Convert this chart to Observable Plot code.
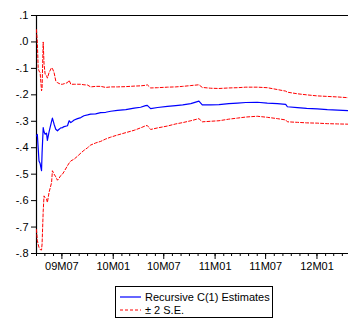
<!DOCTYPE html>
<html>
<head>
<meta charset="utf-8">
<script src="https://cdn.jsdelivr.net/npm/d3@7"></script>
<script src="https://cdn.jsdelivr.net/npm/@observablehq/plot@0.6"></script>
<style>
  body { margin: 0; background: #fff; }
  #chart { position: relative; width: 348px; height: 326px; overflow: hidden; background: #fff;
           font-family: "Liberation Sans", Arial, sans-serif; }
  #chart > svg { display: block; }
  .legend { position: absolute; left: 115px; top: 286px; width: 156px; height: 30px;
            border: 1px solid #000; font-size: 11px; color: #000; box-sizing: content-box; }
  .legend .row { position: absolute; left: 4px; height: 13px; display: flex; align-items: center; white-space: nowrap; }
  .legend .row svg { display: block; flex: none; margin-right: 4px; }
</style>
</head>
<body>
<div id="chart"></div>
<script>
// Observation dates
const dates = [
  "2009-04-01","2009-04-04","2009-04-07","2009-04-10","2009-04-14","2009-04-19","2009-04-21",
  "2009-04-25","2009-04-28","2009-05-02","2009-05-07","2009-05-10","2009-05-16","2009-05-25",
  "2009-05-28","2009-06-03","2009-06-09","2009-06-15","2009-06-21","2009-06-27","2009-07-03",
  "2009-07-09","2009-07-21","2009-07-27","2009-08-02","2009-08-14","2009-08-26","2009-09-07",
  "2009-09-18","2009-10-01","2009-10-12","2009-10-30","2009-11-17","2009-12-05","2009-12-23",
  "2010-01-16","2010-02-15","2010-03-17","2010-04-09","2010-04-27","2010-05-03","2010-05-15",
  "2010-06-09","2010-07-14","2010-08-13","2010-09-07","2010-10-06","2010-11-04","2010-11-16",
  "2010-12-16","2011-01-15","2011-02-19","2011-03-22","2011-04-21","2011-06-01","2011-07-07",
  "2011-08-12","2011-09-11","2011-09-17","2011-10-23","2011-11-25","2012-01-02","2012-02-07",
  "2012-03-15","2012-04-23"
];

// Recursive C(1) estimates
const estimate = [
  -0.355,-0.350,-0.400,-0.450,-0.460,-0.487,-0.420,
  -0.324,-0.340,-0.349,-0.345,-0.372,-0.340,-0.300,
  -0.288,-0.311,-0.330,-0.336,-0.330,-0.325,-0.324,
  -0.320,-0.317,-0.298,-0.305,-0.295,-0.290,-0.286,
  -0.279,-0.276,-0.273,-0.272,-0.267,-0.266,-0.262,
  -0.259,-0.256,-0.250,-0.247,-0.241,-0.240,-0.252,
  -0.248,-0.244,-0.241,-0.238,-0.233,-0.224,-0.238,
  -0.238,-0.237,-0.233,-0.231,-0.229,-0.228,-0.231,
  -0.233,-0.236,-0.245,-0.248,-0.251,-0.253,-0.256,
  -0.258,-0.260
];

// Upper band: estimate + 2 S.E.
const upper = [
   0.046, 0.000,-0.097,-0.110,-0.116,-0.185,-0.175,
   0.000,-0.084,-0.122,-0.128,-0.137,-0.116,-0.097,
  -0.100,-0.116,-0.147,-0.154,-0.157,-0.160,-0.160,
  -0.158,-0.154,-0.145,-0.160,-0.160,-0.160,-0.160,
  -0.162,-0.163,-0.170,-0.168,-0.168,-0.172,-0.170,
  -0.170,-0.169,-0.167,-0.166,-0.164,-0.162,-0.174,
  -0.173,-0.171,-0.170,-0.168,-0.165,-0.162,-0.172,
  -0.175,-0.176,-0.174,-0.173,-0.171,-0.171,-0.173,
  -0.180,-0.186,-0.190,-0.196,-0.200,-0.204,-0.206,
  -0.208,-0.211
];

// Lower band: estimate - 2 S.E.
const lower = [
  -0.710,-0.750,-0.765,-0.777,-0.785,-0.787,-0.764,
  -0.640,-0.582,-0.590,-0.594,-0.607,-0.569,-0.532,
  -0.487,-0.500,-0.510,-0.523,-0.515,-0.505,-0.500,
  -0.490,-0.468,-0.458,-0.450,-0.443,-0.432,-0.420,
  -0.410,-0.400,-0.390,-0.382,-0.376,-0.367,-0.360,
  -0.352,-0.343,-0.334,-0.325,-0.317,-0.316,-0.331,
  -0.325,-0.318,-0.310,-0.305,-0.298,-0.290,-0.302,
  -0.300,-0.298,-0.292,-0.288,-0.284,-0.281,-0.285,
  -0.290,-0.295,-0.302,-0.304,-0.306,-0.307,-0.309,
  -0.310,-0.311
];

// Axis ticks
const yTicks = [0.1, 0.0, -0.1, -0.2, -0.3, -0.4, -0.5, -0.6, -0.7, -0.8];
const xMajorTicks = ["2009-07-01","2010-01-01","2010-07-01","2011-01-01","2011-07-01","2012-01-01"];
const xMajorLabels = ["09M07","10M01","10M07","11M01","11M07","12M01"];
const xRange = ["2009-04-01", "2012-04-23"];

const rows = dates.map((d, i) => ({
  date: new Date(d), est: estimate[i], upper: upper[i], lower: lower[i]
}));

const x0 = new Date(xRange[0]), x1 = new Date(xRange[1]);
const minorTicks = d3.utcMonth.range(x0, x1);
const majorDates = xMajorTicks.map(d => new Date(d));
const labelByTime = new Map(majorDates.map((d, i) => [+d, xMajorLabels[i]]));

// EViews-style decimal labels: .1, .0, -.1 ...
const fmtY = v => {
  const n = Math.round(Math.abs(v) * 10);
  return (v < -1e-9 ? "-" : "") + "." + n;
};

const plot = Plot.plot({
  width: 348,
  height: 275,
  marginLeft: 36,
  marginRight: 0,
  marginTop: 15,
  marginBottom: 22,
  style: { fontFamily: "'Liberation Sans', Arial, sans-serif", fontSize: "11px", color: "#000", background: "#fff" },
  x: { type: "utc", domain: [x0, x1], label: null },
  y: { domain: [-0.8, 0.1], label: null },
  marks: [
    Plot.axisY({ ticks: yTicks, anchor: "left", tickSize: 5, tickPadding: 3, tickFormat: fmtY, label: null, stroke: "#000" }),
    Plot.axisX({ ticks: minorTicks, anchor: "bottom", tickSize: 3, tickFormat: () => "", label: null, stroke: "#000" }),
    Plot.axisX({ ticks: majorDates, anchor: "bottom", tickSize: 6, tickPadding: 3, tickFormat: d => labelByTime.get(+d), label: null, stroke: "#000" }),
    Plot.ruleY([0.1], { stroke: "#000", strokeWidth: 1.2 }),
    Plot.ruleY([-0.8], { stroke: "#000", strokeWidth: 1.2 }),
    Plot.ruleX([x0], { stroke: "#000", strokeWidth: 1.2 }),
    Plot.line(rows, { x: "date", y: "upper", stroke: "#ff0000", strokeWidth: 1, strokeDasharray: "3,2" }),
    Plot.line(rows, { x: "date", y: "lower", stroke: "#ff0000", strokeWidth: 1, strokeDasharray: "3,2" }),
    Plot.line(rows, { x: "date", y: "est", stroke: "#0000ff", strokeWidth: 1.2 })
  ]
});

const chart = document.getElementById("chart");
chart.appendChild(plot);

// Legend box below the plot
const legend = document.createElement("div");
legend.className = "legend";
legend.innerHTML = `
  <div class="row" style="top:3px">
    <svg width="21" height="8"><line x1="0" x2="21" y1="4" y2="4" stroke="#0000ff" stroke-width="1.2"/></svg><span>Recursive C(1) Estimates</span>
  </div>
  <div class="row" style="top:16px">
    <svg width="21" height="8"><line x1="0" x2="21" y1="4" y2="4" stroke="#ff0000" stroke-width="1" stroke-dasharray="3,2"/></svg><span>± 2 S.E.</span>
  </div>`;
chart.appendChild(legend);
</script>
</body>
</html>
